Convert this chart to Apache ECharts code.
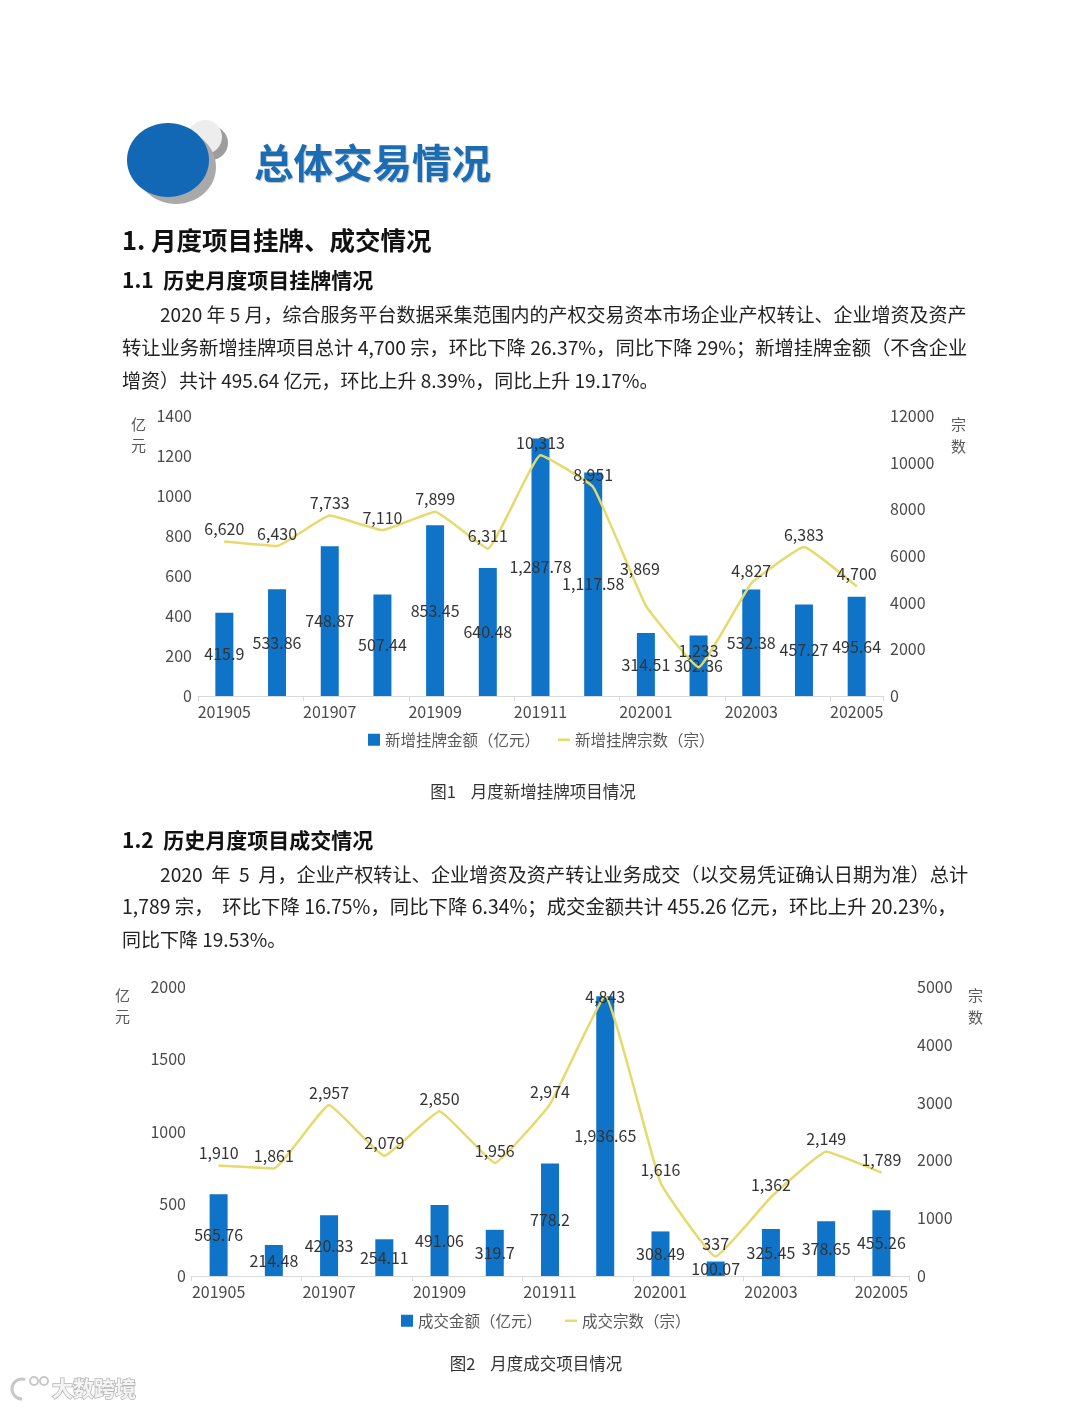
<!DOCTYPE html>
<html><head><meta charset="utf-8">
<script src="https://cdn.jsdelivr.net/npm/echarts@6/dist/echarts.min.js"></script>
<style>html,body{margin:0;padding:0;background:#fff}#c{width:1080px;height:1408px}</style>
</head><body><div id="c"></div>
<script>
const months = ['201905','201906','201907','201908','201909','201910','201911','201912','202001','202002','202003','202004','202005'];
const listingAmount = [415.9,533.86,748.87,507.44,853.45,640.48,1287.78,1117.58,314.51,302.36,532.38,457.27,495.64];
const listingCount = [6620,6430,7733,7110,7899,6311,10313,8951,3869,1233,4827,6383,4700];
const dealAmount = [565.76,214.48,420.33,254.11,491.06,319.7,778.2,1936.65,308.49,100.07,325.45,378.65,455.26];
const dealCount = [1910,1861,2957,2079,2850,1956,2974,4843,1616,337,1362,2149,1789];
const axis1Left = {min:0,max:1400,interval:200};
const axis1Right = {min:0,max:12000,interval:2000};
const axis2Left = {min:0,max:2000,interval:500};
const axis2Right = {min:0,max:5000,interval:1000};

const FONT = "'Noto Sans CJK SC','Noto Sans',sans-serif";
const BAR = '#0f74c8';
const LINE = '#e6da6c';
const AXC = '#4a4a4a';
const fmt = p => Number(p.value).toLocaleString('en-US',{maximumFractionDigits:2});
// label nudges for readability (kept separate from data)
const adj1 = {8:[-6,-24],9:[0,-4]};
const adj2 = {7:[0,13]};
const withAdj = (arr, adj) => arr.map((v,i)=> adj[i] ? {value:v,label:{offset:adj[i]}} : v);

const chart = echarts.init(document.getElementById('c'), null, {renderer:'canvas'});

function xAx(grid){
  return {type:'category',gridIndex:grid,data:months,boundaryGap:true,
    axisLine:{lineStyle:{color:'#d9d9d9',width:1}},
    axisTick:{show:true,length:5,lineStyle:{color:'#d9d9d9'}},
    axisLabel:{interval:1,fontSize:16,color:AXC,margin:8,fontFamily:FONT},
    splitLine:{show:false}};
}
function yAx(grid,cfg,pos,margin){
  return Object.assign({type:'value',gridIndex:grid,position:pos,
    axisLine:{show:false},axisTick:{show:false},splitLine:{show:false},
    axisLabel:{fontSize:16,color:AXC,margin:margin,fontFamily:FONT,formatter:v=>String(v)}},cfg);
}
const barLabel = {show:true,position:'inside',formatter:fmt,color:'#333',fontSize:16,fontFamily:FONT};
const lineLabel = {show:true,position:'top',distance:4,formatter:fmt,color:'#333',fontSize:16,fontFamily:FONT};

function txt(x,y,text,size,opts){
  return {type:'text',x:x,y:y,style:Object.assign({text:text,fontSize:size,fontFamily:FONT,fill:'#222',textVerticalAlign:'middle',verticalAlign:'middle'},opts||{})};
}
const PF = 19;
const graphics = [
  {type:'circle',shape:{cx:211,cy:143,r:17},style:{fill:'#9d9d9d'}},
  {type:'circle',shape:{cx:205,cy:137,r:17},style:{fill:'#ededed'}},
  {type:'ellipse',shape:{cx:176,cy:167,rx:40,ry:37},style:{fill:'#a9a9a9'}},
  {type:'ellipse',shape:{cx:168,cy:160,rx:41,ry:37},style:{fill:'#1268b5'}},
  txt(254,163,'总体交易情况',39.5,{fontWeight:'bold',fill:'#1a6db3',textShadowColor:'rgba(0,0,0,0.25)',textShadowOffsetX:1,textShadowOffsetY:1,textShadowBlur:1}),
  txt(122,240,'1. 月度项目挂牌、成交情况',25.5,{fontWeight:'bold',fill:'#111'}),
  txt(122,280,'1.1  历史月度项目挂牌情况',21,{fontWeight:'bold',fill:'#111'}),
  txt(160,315,'2020 年 5 月，综合服务平台数据采集范围内的产权交易资本市场企业产权转让、企业增资及资产',PF),
  txt(122,348,'转让业务新增挂牌项目总计 4,700 宗，环比下降 26.37%，同比下降 29%；新增挂牌金额（不含企业',19.3),
  txt(122,381,'增资）共计 495.64 亿元，环比上升 8.39%，同比上升 19.17%。',PF),
  txt(131,424,'亿',15,{fill:'#595959'}),
  txt(131,445,'元',15,{fill:'#595959'}),
  txt(951,424,'宗',15,{fill:'#595959'}),
  txt(951,446,'数',15,{fill:'#595959'}),
  txt(533,792,'图1    月度新增挂牌项目情况',16.5,{fill:'#333',align:'center',textAlign:'center'}),
  txt(122,840,'1.2  历史月度项目成交情况',21,{fontWeight:'bold',fill:'#111'}),
  txt(160,875,'2020  年  5  月，企业产权转让、企业增资及资产转让业务成交（以交易凭证确认日期为准）总计',19.2),
  txt(122,907,'1,789 宗，  环比下降 16.75%，同比下降 6.34%；成交金额共计 455.26 亿元，环比上升 20.23%，',19.4),
  txt(122,940,'同比下降 19.53%。',PF),
  txt(115,995,'亿',15,{fill:'#595959'}),
  txt(115,1016,'元',15,{fill:'#595959'}),
  txt(968,995,'宗',15,{fill:'#595959'}),
  txt(968,1017,'数',15,{fill:'#595959'}),
  txt(536,1364,'图2    月度成交项目情况',16.5,{fill:'#333',align:'center',textAlign:'center'}),
  {type:'arc',shape:{cx:22,cy:1389,r:10,startAngle:Math.PI*0.5,endAngle:Math.PI*1.6},style:{stroke:'#c8c8c8',lineWidth:3,fill:null}},
  {type:'circle',shape:{cx:34,cy:1381,r:4},style:{stroke:'#c8c8c8',lineWidth:2,fill:'#fff'}},
  {type:'circle',shape:{cx:44,cy:1381,r:4},style:{stroke:'#c8c8c8',lineWidth:2,fill:'#fff'}},
  txt(52,1388,'大数跨境',21,{fill:'#f4f4f4',stroke:'#b5b5b5',lineWidth:1.5,fontWeight:'bold'})
];

const option = {
  backgroundColor:'#fff',
  animation:false,
  textStyle:{fontFamily:FONT},
  grid:[
    {left:198,right:197,top:416,height:280,containLabel:false},
    {left:191,right:171,top:987,height:289,containLabel:false}
  ],
  xAxis:[xAx(0),xAx(1)],
  yAxis:[
    yAx(0,axis1Left,'left',6), yAx(0,axis1Right,'right',7),
    yAx(1,axis2Left,'left',5), yAx(1,axis2Right,'right',8)
  ],
  legend:[
    {data:[{name:'新增挂牌金额（亿元）'}],icon:'rect',left:368,top:732,padding:0,itemWidth:12,itemHeight:12,textStyle:{fontSize:15.5,color:'#595959',fontFamily:FONT}},
    {data:[{name:'新增挂牌宗数（宗）'}],icon:'rect',left:558,top:732,padding:0,itemWidth:12,itemHeight:2.5,textStyle:{fontSize:15.5,color:'#595959',fontFamily:FONT}},
    {data:[{name:'成交金额（亿元）'}],icon:'rect',left:401,top:1313,padding:0,itemWidth:12,itemHeight:12,textStyle:{fontSize:15.5,color:'#595959',fontFamily:FONT}},
    {data:[{name:'成交宗数（宗）'}],icon:'rect',left:565,top:1313,padding:0,itemWidth:12,itemHeight:2.5,textStyle:{fontSize:15.5,color:'#595959',fontFamily:FONT}}
  ],
  series:[
    {type:'bar',name:'新增挂牌金额（亿元）',xAxisIndex:0,yAxisIndex:0,data:listingAmount,barWidth:18,itemStyle:{color:BAR},label:barLabel,z:2},
    {type:'line',name:'新增挂牌宗数（宗）',xAxisIndex:0,yAxisIndex:1,data:withAdj(listingCount,adj1),smooth:0.1,symbol:'circle',symbolSize:1,itemStyle:{color:LINE},lineStyle:{color:LINE,width:2.5},label:lineLabel,z:3},
    {type:'bar',name:'成交金额（亿元）',xAxisIndex:1,yAxisIndex:2,data:dealAmount,barWidth:18,itemStyle:{color:BAR},label:barLabel,z:2},
    {type:'line',name:'成交宗数（宗）',xAxisIndex:1,yAxisIndex:3,data:withAdj(dealCount,adj2),smooth:0.1,symbol:'circle',symbolSize:1,itemStyle:{color:LINE},lineStyle:{color:LINE,width:2.5},label:lineLabel,z:3}
  ],
  graphic:graphics
};
chart.setOption(option);
</script></body></html>
